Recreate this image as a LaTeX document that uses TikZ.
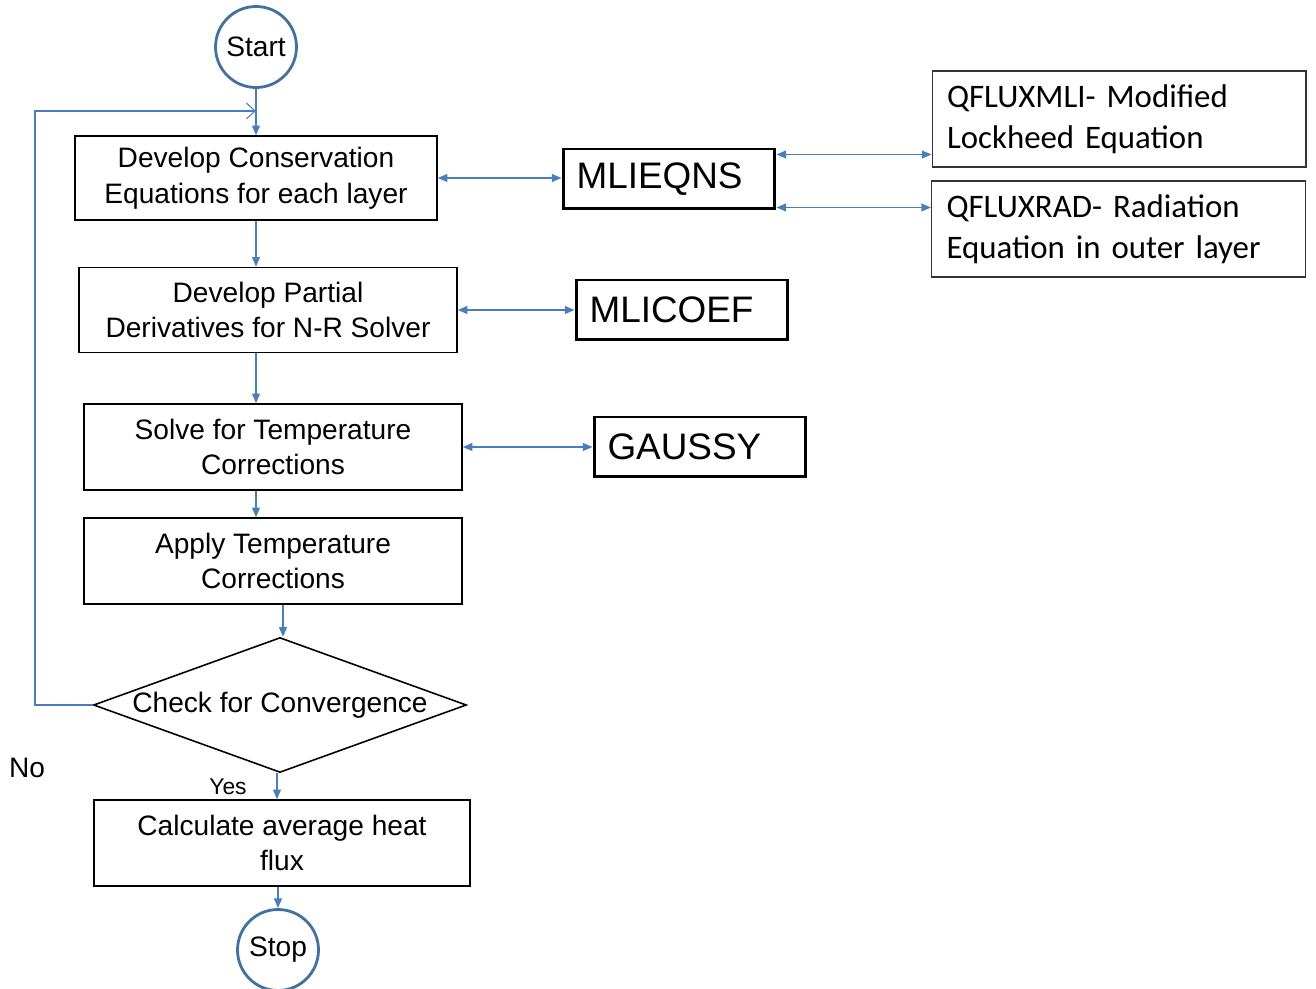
\documentclass[tikz,border=0pt]{standalone}
\usepackage{fontspec}
\setmainfont{Liberation Sans}
\newfontfamily\calfont{Carlito}
\usetikzlibrary{shapes,arrows.meta,positioning,calc}
\definecolor{flowblue}{RGB}{74,126,187}
\definecolor{ringblue}{RGB}{65,113,156}

\begin{document}
\begin{tikzpicture}[x=0.02cm, y=-0.02cm, font=\fontsize{16}{20.4}\selectfont,
	procbox/.style={draw, line width=0.9pt, minimum width=7.56cm, minimum height=1.72cm, inner sep=0pt, align=center},
	subbox/.style={draw, line width=1.7pt, minimum height=1.2cm, text width=3.7cm, inner xsep=0.27cm, inner ysep=0pt, align=left, font=\fontsize{21}{25}\selectfont},
	notebox/.style={draw=black!80, line width=0.6pt, minimum height=1.92cm, text width=6.88cm, inner xsep=0.3cm, inner ysep=0pt, align=left, font=\calfont\fontsize{18.7}{23.2}\selectfont},
	termnode/.style={circle, draw=ringblue, line width=1.6pt, minimum size=1.62cm, inner sep=0pt},
	decision/.style={diamond, draw, line width=0.9pt, minimum width=7.46cm, minimum height=2.7cm, inner sep=0pt},
	link/.style={flowblue, line width=0.8pt, -{Triangle[length=5.5pt,width=4.5pt]}},
	twoway/.style={flowblue, line width=0.8pt, {Triangle[length=5.5pt,width=4.5pt]}-{Triangle[length=5.5pt,width=4.5pt]}},
	loopline/.style={flowblue, line width=0.6pt, -{Straight Barb[length=5pt,width=9pt]}}]
	\useasboundingbox (0,0) rectangle (1316,989);
	% main flow
	\node[termnode] (start) at (256,47) {Start};
	\node[procbox, minimum width=7.24cm, minimum height=1.68cm] (cons) at (256,178) {Develop Conservation\\Equations for each layer};
	\node[procbox, minimum height=1.70cm] (part) at (268,310) {Develop Partial\\Derivatives for N-R Solver};
	\node[procbox] (solve) at (273,447) {Solve for Temperature\\Corrections};
	\node[procbox] (apply) at (273,561) {Apply Temperature\\Corrections};
	\node[decision, label=center:{Check for Convergence}] (conv) at (280,705) {};
	\node[procbox, minimum width=7.52cm] (calc) at (282,843) {Calculate average heat\\flux};
	\node[termnode] (stop) at (278,950) {Stop};
	\node (yes) at (228,787) {\fontsize{13}{15}\selectfont Yes};
	\node (no) at (27,768) {No};
	
	% subroutines
	\node[subbox] (eqns) at (669,179) {MLIEQNS};
	\node[subbox] (coef) at (682,310) {MLICOEF};
	\node[subbox] (gauss) at (700,447) {GAUSSY};
	\node[notebox] (mli) at (1119,119) {QFLUXMLI- Modified\\Lockheed Equation};
	\node[notebox] (rad) at (1118.5,229) {QFLUXRAD- Radiation\\Equation in outer layer};
	
	\coordinate (into) at ($(conv.north)+(3,0)$);
	\coordinate (outof) at ($(conv.south)+(-3,0)$);
	\draw[link] (start) -- (cons);
	\draw[link] (cons.south) -- (cons.south |- part.north);
	\draw[link] (cons.south |- part.south) -- (cons.south |- solve.north);
	\draw[link] (cons.south |- solve.south) -- (cons.south |- apply.north);
	\draw[link] (into |- apply.south) -- (into);
	\draw[link] (outof) -- (outof |- calc.north);
	\draw[link] (stop.north |- calc.south) -- (stop.north);
	
	% loop back when not converged
	\coordinate (back) at (35,111);
	\draw[loopline] (conv.west) -| (back) -- (back -| cons.north);
	
	\draw[twoway] (cons.east) -- (cons.east -| eqns.west);
	\draw[twoway] ($(eqns.north east)+(0,7)$) coordinate (upper) -- (upper -| mli.west);
	\draw[twoway] ($(eqns.south east)+(0,-3)$) coordinate (lower) -- (lower -| rad.west);
	\draw[twoway] (part.east) -- (coef.west);
	\draw[twoway] (solve.east) -- (gauss.west);
\end{tikzpicture}
\end{document}
